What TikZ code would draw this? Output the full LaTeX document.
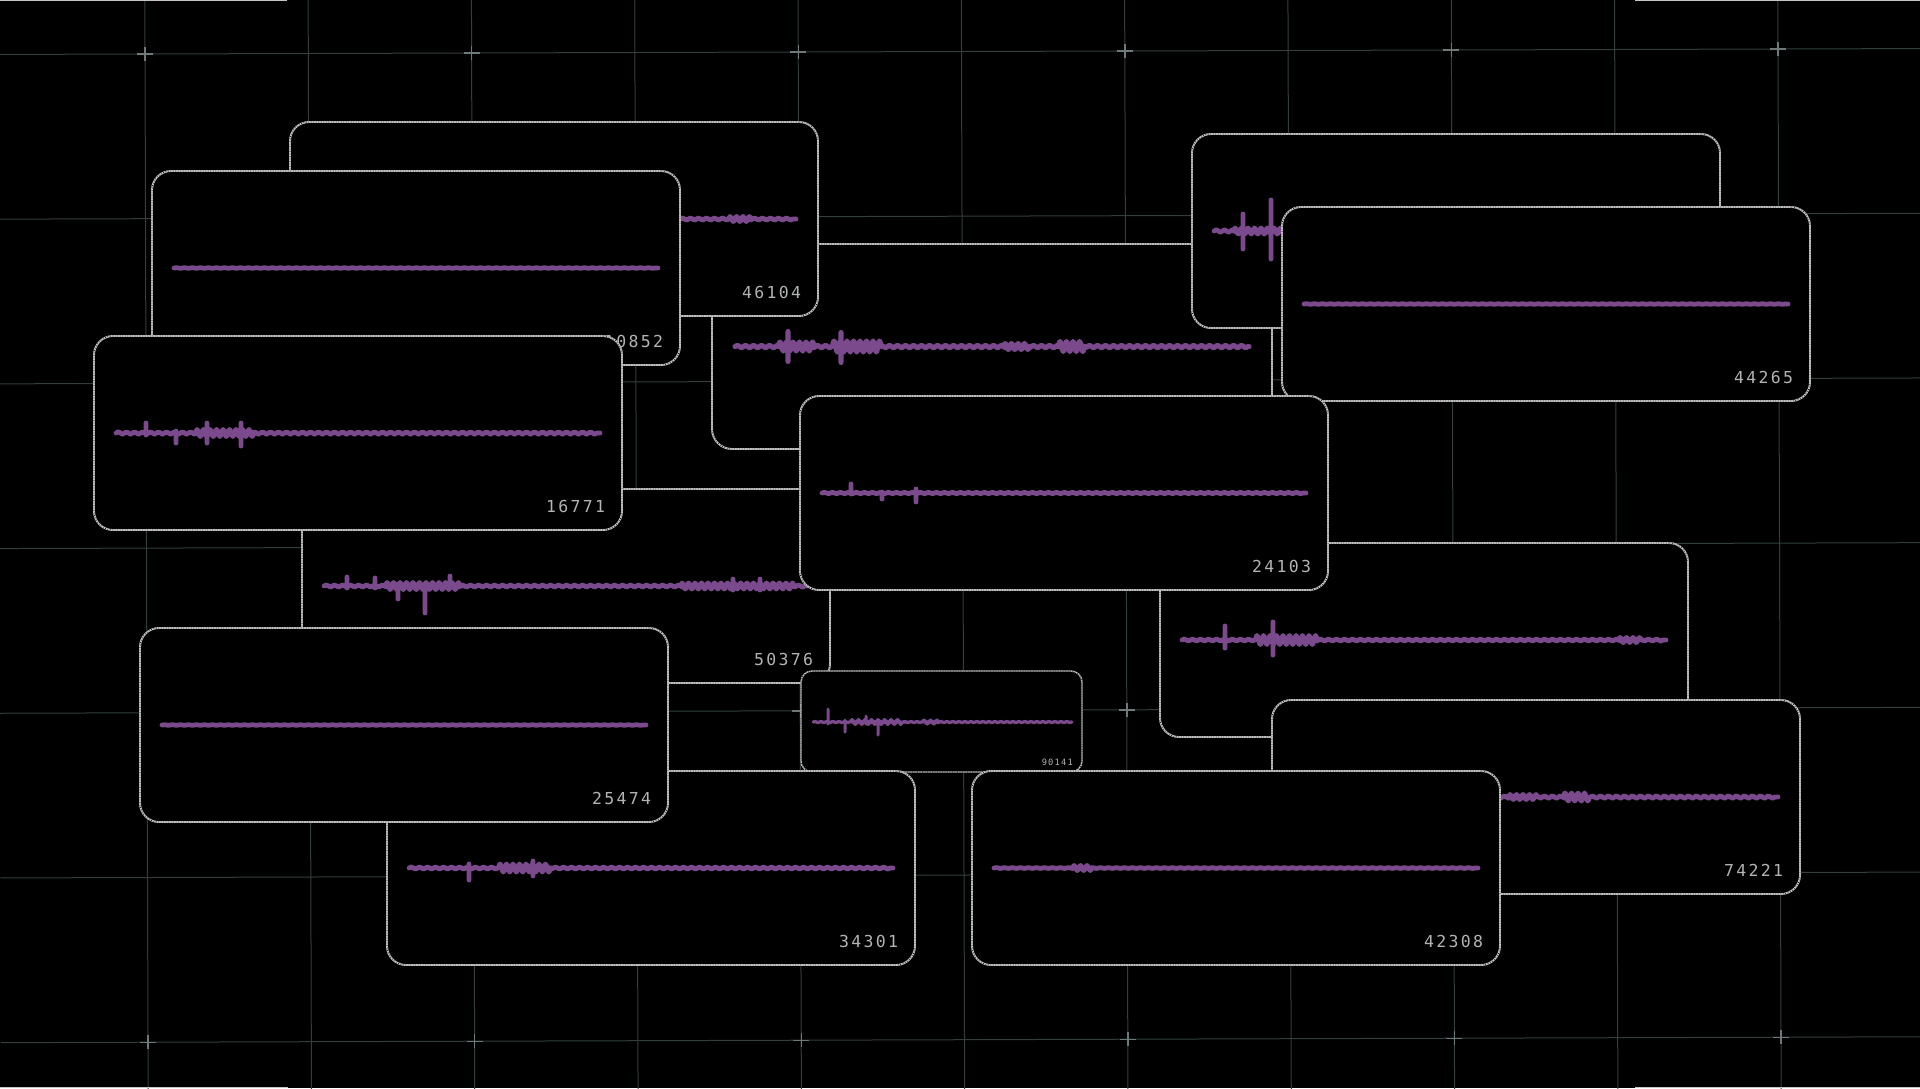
\documentclass[tikz,border=0pt]{standalone}
\usepackage{fontspec}
\usetikzlibrary{decorations.pathmorphing}
\newfontfamily\numfont{DejaVu Sans Mono}[LetterSpace=14]
\definecolor{wpurple}{RGB}{122,74,140}
\definecolor{wblue}{RGB}{66,70,180}
\definecolor{wred}{RGB}{180,40,60}
\definecolor{bordergray}{RGB}{195,195,195}
\definecolor{labelgray}{RGB}{178,180,180}
\definecolor{gridline}{RGB}{52,62,62}
\definecolor{gridcross}{RGB}{110,122,122}
\tikzset{
  gridl/.style={draw=gridline, line width=1},
  gridc/.style={draw=gridcross, line width=1.4},
  card/.style={draw=bordergray, line width=1.9, fill=black, rounded corners=19,
    minimum width=528, minimum height=194, anchor=north west, inner sep=0, outer sep=0,
    postaction={draw=black, line width=0.8, dash pattern=on 0.6pt off 1.9pt}},
  wv/.style={draw=wpurple, line cap=round, line join=round, line width=4.8,
    preaction={draw=wblue, transform canvas={yshift=1.4pt}},
    preaction={draw=wred, transform canvas={yshift=-1.4pt}}},
  rip/.style={decoration={snake, amplitude=#1, segment length=8pt}},
  brs/.style={decoration={snake, amplitude=#1, segment length=6.5pt}},
  lbl/.style={font=\numfont\fontsize{16.5}{18}\selectfont, text=labelgray, inner sep=0, anchor=base east},
}
\newcommand\card[4]{%
  \node[card] (#1) at (#2,#3) {};
  \node[lbl] (#1-n) at ({#2+511.3},{#3+176.5}) {#4};
}
\begin{document}
\begin{tikzpicture}[x=1pt,y=-1pt]
\useasboundingbox (0,0) rectangle (1920,1088);
\fill[black] (0,0) rectangle (1920,1088);
% grid
\foreach \j in {0,...,6}{
  \draw[gridl] ({-2+0.5*\j},{54.45+164.7*\j}) -- ({1925+0.5*\j},{48.55+164.7*\j});
}
\foreach \i in {0,...,10}{
  \draw[gridl] ({144.8+163.3*\i},{-11.9-0.5*\i}) -- ({148.2+163.3*\i},{1108.1-0.5*\i});
}
\foreach \i in {0,2,...,10}{
  \foreach \j in {0,2,4,6}{
    \pgfmathsetmacro\cx{145+163.3*\i+0.5*\j}
    \pgfmathsetmacro\cy{54-0.5*\i+164.7*\j}
    \draw[gridc] (\cx-8,\cy) -- (\cx+8,\cy) (\cx,\cy-7) -- (\cx,\cy+7);
  }
}
\draw[gridl, draw=gray!45] (0,0.8) -- (287,0.8) (1635,0.8) -- (1920,0.8)
  (0,1087.2) -- (288,1087.2) (1635,1087.2) -- (1920,1087.2);
% cards, back to front
\node[card, minimum width=560, minimum height=205, rounded corners=20] (cb4) at (712,244) {};
\draw[wv, line width=5.1] decorate[rip=1.2pt]{(735,346.5) -- (1249,346.5)}
  (788,331.5) -- (788,361.5) (841,332.5) -- (841,362.5)
  decorate[brs=4.5pt]{(778,346.5) -- (815,346.5)} decorate[brs=5.5pt]{(832,346.5) -- (882,346.5)}
  decorate[brs=3pt]{(1003,346.5) -- (1030,346.5)} decorate[brs=5pt]{(1058,346.5) -- (1088,346.5)};
\card{cb5}{1192}{134}{}
\draw[wv] decorate[rip=1.2pt]{(1214,231) -- (1698,231)}
  (1243,214) -- (1243,249) (1271,200) -- (1271,259)
  decorate[brs=3pt]{(1233,231) -- (1290,231)};
\card{c46104}{290}{122}{46104}
\draw[wv] decorate[rip=1.1pt]{(312,219) -- (796,219)} decorate[brs=2.5pt]{(728,219) -- (752,219)};
\card{c10852}{152}{171}{10852}
\draw[wv] decorate[rip=0.3pt]{(174,268) -- (658,268)};
\card{c50376}{302}{489}{50376}
\draw[wv] decorate[rip=1.1pt]{(324,586) -- (808,586)}
  (347,577) -- (347,588) (375,578) -- (375,588) (398,584) -- (398,599) (425,584) -- (425,613) (450,576) -- (450,588)
  decorate[brs=3.5pt]{(385,586) -- (462,586)} decorate[brs=3pt]{(680,586) -- (796,586)}
  (733,579) -- (733,590) (760,579) -- (760,590);
\node[card, minimum width=281, minimum height=101, rounded corners=11, line width=1.4] (c90141) at (801,671) {};
\node[lbl, font=\numfont\fontsize{8.7}{10}\selectfont] (c90141-n) at (1073,765) {90141};
\draw[wv, line width=3, rip/.style={decoration={snake, amplitude=#1, segment length=6pt}}]
  decorate[rip=0.6pt]{(813,722) -- (1072,722)}
  (828,709) -- (828,724) (845,720) -- (845,732) (866,716) -- (866,724) (878,720) -- (878,735)
  decorate[brs=2.5pt]{(850,722) -- (905,722)} decorate[brs=2pt]{(922,722) -- (940,722)};
\card{c16771}{94}{336}{16771}
\draw[wv] decorate[rip=1.2pt]{(116,433) -- (600,433)}
  (146,423) -- (146,435) (176,431) -- (176,443) (207,423) -- (207,443) (241,423) -- (241,446)
  decorate[brs=3.5pt]{(195,433) -- (256,433)};
\card{c44265}{1282}{207}{44265}
\draw[wv] decorate[rip=0.3pt]{(1304,304) -- (1788,304)};
\card{cb9}{1160}{543}{}
\draw[wv] decorate[rip=1.1pt]{(1182,640) -- (1666,640)}
  (1225,626) -- (1225,648) (1273,622) -- (1273,655)
  decorate[brs=4.5pt]{(1255,640) -- (1320,640)} decorate[brs=2.5pt]{(1618,640) -- (1642,640)};
\card{c24103}{800}{396}{24103}
\draw[wv] decorate[rip=0.7pt]{(822,493) -- (1306,493)}
  (851,484) -- (851,494) (882,492) -- (882,499) (916,489) -- (916,502);
\card{c34301}{387}{771}{34301}
\draw[wv] decorate[rip=1.1pt]{(409,868) -- (893,868)}
  (469,864) -- (469,880) (533,861) -- (533,876)
  decorate[brs=4pt]{(498,868) -- (552,868)};
\card{c25474}{140}{628}{25474}
\draw[wv] decorate[rip=0.3pt]{(162,725) -- (646,725)};
\card{c74221}{1272}{700}{74221}
\draw[wv] decorate[rip=1.2pt]{(1294,797) -- (1778,797)}
  decorate[brs=4pt]{(1563,797) -- (1591,797)} decorate[brs=2.5pt]{(1508,797) -- (1540,797)};
\card{c42308}{972}{771}{42308}
\draw[wv] decorate[rip=0.4pt]{(994,868) -- (1478,868)} decorate[brs=2.5pt]{(1072,868) -- (1093,868)};
\end{tikzpicture}
\end{document}
